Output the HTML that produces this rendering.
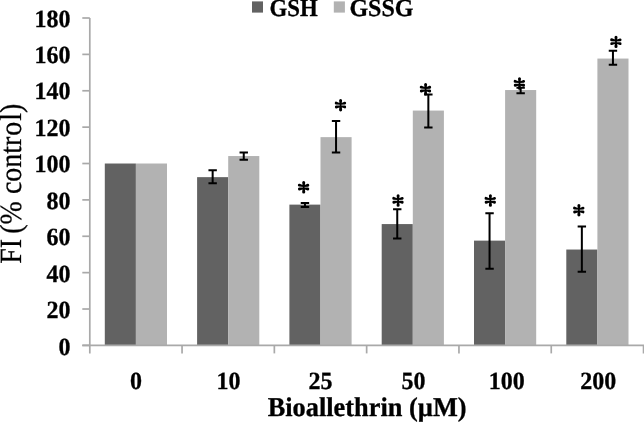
<!DOCTYPE html>
<html><head><meta charset="utf-8"><style>
html,body{margin:0;padding:0;background:#fff;width:644px;height:422px;overflow:hidden}
svg{display:block;text-rendering:geometricPrecision;will-change:transform}
</style></head><body>
<svg width="644" height="422" viewBox="0 0 644 422">
<rect x="104.80" y="163.51" width="31.10" height="181.89" fill="#626262"/>
<rect x="135.90" y="163.51" width="31.10" height="181.89" fill="#b2b2b2"/>
<rect x="197.10" y="177.15" width="31.10" height="168.25" fill="#626262"/>
<rect x="228.20" y="156.05" width="31.10" height="189.35" fill="#b2b2b2"/>
<rect x="289.40" y="204.62" width="31.10" height="140.78" fill="#626262"/>
<rect x="320.50" y="137.14" width="31.10" height="208.26" fill="#b2b2b2"/>
<rect x="381.70" y="224.08" width="31.10" height="121.32" fill="#626262"/>
<rect x="412.80" y="110.58" width="31.10" height="234.82" fill="#b2b2b2"/>
<rect x="474.00" y="240.63" width="31.10" height="104.77" fill="#626262"/>
<rect x="505.10" y="90.03" width="31.10" height="255.37" fill="#b2b2b2"/>
<rect x="566.30" y="249.54" width="31.10" height="95.86" fill="#626262"/>
<rect x="597.40" y="58.56" width="31.10" height="286.84" fill="#b2b2b2"/>
<g stroke="#a9a9a9" stroke-width="1.7" fill="none">
<path d="M89.8 18.0 V353.4"/>
<path d="M82.3 345.4 H644.0"/>
<path d="M82.3 345.40 H89.8"/>
<path d="M82.3 309.02 H89.8"/>
<path d="M82.3 272.64 H89.8"/>
<path d="M82.3 236.27 H89.8"/>
<path d="M82.3 199.89 H89.8"/>
<path d="M82.3 163.51 H89.8"/>
<path d="M82.3 127.13 H89.8"/>
<path d="M82.3 90.76 H89.8"/>
<path d="M82.3 54.38 H89.8"/>
<path d="M82.3 18.00 H89.8"/>
<path d="M182.05 345.4 V353.4"/>
<path d="M274.35 345.4 V353.4"/>
<path d="M366.65 345.4 V353.4"/>
<path d="M458.95 345.4 V353.4"/>
<path d="M551.25 345.4 V353.4"/>
<path d="M643.55 345.4 V353.4"/>
</g>
<g stroke="#000" stroke-width="2" fill="none">
<path d="M212.65 170.30 V183.30 M208.45 170.30 H216.85 M208.45 183.30 H216.85"/>
<path d="M243.75 152.40 V159.70 M239.55 152.40 H247.95 M239.55 159.70 H247.95"/>
<path d="M304.95 202.90 V207.10 M300.75 202.90 H309.15 M300.75 207.10 H309.15"/>
<path d="M336.05 121.10 V152.40 M331.85 121.10 H340.25 M331.85 152.40 H340.25"/>
<path d="M397.25 209.30 V238.60 M393.05 209.30 H401.45 M393.05 238.60 H401.45"/>
<path d="M428.35 94.60 V127.60 M424.15 94.60 H432.55 M424.15 127.60 H432.55"/>
<path d="M489.55 213.30 V268.70 M485.35 213.30 H493.75 M485.35 268.70 H493.75"/>
<path d="M520.65 87.80 V93.20 M516.45 87.80 H524.85 M516.45 93.20 H524.85"/>
<path d="M581.85 226.50 V271.70 M577.65 226.50 H586.05 M577.65 271.70 H586.05"/>
<path d="M612.95 50.70 V64.80 M608.75 50.70 H617.15 M608.75 64.80 H617.15"/>
</g>
<g font-family="Liberation Serif" font-weight="bold" font-size="24" text-anchor="end" fill="#000" stroke="#000" stroke-width="0.3">
<text transform="translate(70.4,354.95) scale(1,1.03)">0</text>
<text transform="translate(70.4,318.46) scale(1,1.03)">20</text>
<text transform="translate(70.4,281.96) scale(1,1.03)">40</text>
<text transform="translate(70.4,245.47) scale(1,1.03)">60</text>
<text transform="translate(70.4,208.97) scale(1,1.03)">80</text>
<text transform="translate(70.4,172.48) scale(1,1.03)">100</text>
<text transform="translate(70.4,135.98) scale(1,1.03)">120</text>
<text transform="translate(70.4,99.49) scale(1,1.03)">140</text>
<text transform="translate(70.4,62.99) scale(1,1.03)">160</text>
<text transform="translate(70.4,26.50) scale(1,1.03)">180</text>
</g>
<g font-family="Liberation Serif" font-weight="bold" font-size="24" text-anchor="middle" fill="#000" stroke="#000" stroke-width="0.3">
<text transform="translate(136.00,388.7) scale(1,1.03)">0</text>
<text transform="translate(228.50,388.7) scale(1,1.03)">10</text>
<text transform="translate(320.50,388.7) scale(1,1.03)">25</text>
<text transform="translate(413.60,388.7) scale(1,1.03)">50</text>
<text transform="translate(506.85,388.7) scale(1,1.03)">100</text>
<text transform="translate(598.15,388.7) scale(1,1.03)">200</text>
</g>
<text transform="translate(367.1,415.5) scale(1,1.03)" font-family="Liberation Serif" font-weight="bold" font-size="26.35" text-anchor="middle" stroke="#000" stroke-width="0.3">Bioallethrin (µM)</text>
<text transform="translate(20.9,183.75) rotate(-90) scale(1,1.1)" font-family="Liberation Serif" font-size="28" text-anchor="middle" stroke="#000" stroke-width="0.25">FI<tspan dx="-1.8"> (% contr</tspan><tspan dx="0.8">o</tspan><tspan dx="1">l)</tspan></text>
<rect x="252" y="1.4" width="11" height="11.2" fill="#626262"/>
<rect x="333.8" y="1.4" width="11.1" height="11.2" fill="#b2b2b2"/>
<g font-family="Liberation Serif" font-weight="bold" font-size="24" fill="#000" stroke="#000" stroke-width="0.3">
<text transform="translate(269.5,15.5) scale(0.95,1.03)">GSH</text>
<text transform="translate(349.4,15.5) scale(1,1.03)">GSSG</text>
</g>
<path transform="translate(297.70,181.10)" d="M6.85 6.20L7.50 1.50A1.50 1.50 0 0 0 4.50 1.50L5.15 6.20ZM5.15 6.20L4.45 10.85A1.55 1.55 0 0 0 7.55 10.85L6.85 6.20ZM6.16 4.42L1.95 2.63A1.45 1.45 0 0 0 1.27 5.45L5.84 5.78ZM6.16 5.78L10.52 5.54A1.45 1.45 0 0 0 9.86 2.72L5.84 4.42ZM5.88 6.51L1.48 6.52A1.45 1.45 0 0 0 1.98 9.38L6.12 7.89ZM5.88 7.89L9.92 9.37A1.45 1.45 0 0 0 10.43 6.52L6.12 6.51Z" fill="#000"/>
<path transform="translate(334.60,99.00)" d="M6.85 6.20L7.50 1.50A1.50 1.50 0 0 0 4.50 1.50L5.15 6.20ZM5.15 6.20L4.45 10.85A1.55 1.55 0 0 0 7.55 10.85L6.85 6.20ZM6.16 4.42L1.95 2.63A1.45 1.45 0 0 0 1.27 5.45L5.84 5.78ZM6.16 5.78L10.52 5.54A1.45 1.45 0 0 0 9.86 2.72L5.84 4.42ZM5.88 6.51L1.48 6.52A1.45 1.45 0 0 0 1.98 9.38L6.12 7.89ZM5.88 7.89L9.92 9.37A1.45 1.45 0 0 0 10.43 6.52L6.12 6.51Z" fill="#000"/>
<path transform="translate(392.10,194.30)" d="M6.85 6.20L7.50 1.50A1.50 1.50 0 0 0 4.50 1.50L5.15 6.20ZM5.15 6.20L4.45 10.85A1.55 1.55 0 0 0 7.55 10.85L6.85 6.20ZM6.16 4.42L1.95 2.63A1.45 1.45 0 0 0 1.27 5.45L5.84 5.78ZM6.16 5.78L10.52 5.54A1.45 1.45 0 0 0 9.86 2.72L5.84 4.42ZM5.88 6.51L1.48 6.52A1.45 1.45 0 0 0 1.98 9.38L6.12 7.89ZM5.88 7.89L9.92 9.37A1.45 1.45 0 0 0 10.43 6.52L6.12 6.51Z" fill="#000"/>
<path transform="translate(419.60,83.10)" d="M6.85 6.20L7.50 1.50A1.50 1.50 0 0 0 4.50 1.50L5.15 6.20ZM5.15 6.20L4.45 10.85A1.55 1.55 0 0 0 7.55 10.85L6.85 6.20ZM6.16 4.42L1.95 2.63A1.45 1.45 0 0 0 1.27 5.45L5.84 5.78ZM6.16 5.78L10.52 5.54A1.45 1.45 0 0 0 9.86 2.72L5.84 4.42ZM5.88 6.51L1.48 6.52A1.45 1.45 0 0 0 1.98 9.38L6.12 7.89ZM5.88 7.89L9.92 9.37A1.45 1.45 0 0 0 10.43 6.52L6.12 6.51Z" fill="#000"/>
<path transform="translate(484.40,194.30)" d="M6.85 6.20L7.50 1.50A1.50 1.50 0 0 0 4.50 1.50L5.15 6.20ZM5.15 6.20L4.45 10.85A1.55 1.55 0 0 0 7.55 10.85L6.85 6.20ZM6.16 4.42L1.95 2.63A1.45 1.45 0 0 0 1.27 5.45L5.84 5.78ZM6.16 5.78L10.52 5.54A1.45 1.45 0 0 0 9.86 2.72L5.84 4.42ZM5.88 6.51L1.48 6.52A1.45 1.45 0 0 0 1.98 9.38L6.12 7.89ZM5.88 7.89L9.92 9.37A1.45 1.45 0 0 0 10.43 6.52L6.12 6.51Z" fill="#000"/>
<path transform="translate(513.50,77.30)" d="M6.85 6.20L7.50 1.50A1.50 1.50 0 0 0 4.50 1.50L5.15 6.20ZM5.15 6.20L4.45 10.85A1.55 1.55 0 0 0 7.55 10.85L6.85 6.20ZM6.16 4.42L1.95 2.63A1.45 1.45 0 0 0 1.27 5.45L5.84 5.78ZM6.16 5.78L10.52 5.54A1.45 1.45 0 0 0 9.86 2.72L5.84 4.42ZM5.88 6.51L1.48 6.52A1.45 1.45 0 0 0 1.98 9.38L6.12 7.89ZM5.88 7.89L9.92 9.37A1.45 1.45 0 0 0 10.43 6.52L6.12 6.51Z" fill="#000"/>
<path transform="translate(572.90,204.00)" d="M6.85 6.20L7.50 1.50A1.50 1.50 0 0 0 4.50 1.50L5.15 6.20ZM5.15 6.20L4.45 10.85A1.55 1.55 0 0 0 7.55 10.85L6.85 6.20ZM6.16 4.42L1.95 2.63A1.45 1.45 0 0 0 1.27 5.45L5.84 5.78ZM6.16 5.78L10.52 5.54A1.45 1.45 0 0 0 9.86 2.72L5.84 4.42ZM5.88 6.51L1.48 6.52A1.45 1.45 0 0 0 1.98 9.38L6.12 7.89ZM5.88 7.89L9.92 9.37A1.45 1.45 0 0 0 10.43 6.52L6.12 6.51Z" fill="#000"/>
<path transform="translate(610.00,35.70)" d="M6.85 6.20L7.50 1.50A1.50 1.50 0 0 0 4.50 1.50L5.15 6.20ZM5.15 6.20L4.45 10.85A1.55 1.55 0 0 0 7.55 10.85L6.85 6.20ZM6.16 4.42L1.95 2.63A1.45 1.45 0 0 0 1.27 5.45L5.84 5.78ZM6.16 5.78L10.52 5.54A1.45 1.45 0 0 0 9.86 2.72L5.84 4.42ZM5.88 6.51L1.48 6.52A1.45 1.45 0 0 0 1.98 9.38L6.12 7.89ZM5.88 7.89L9.92 9.37A1.45 1.45 0 0 0 10.43 6.52L6.12 6.51Z" fill="#000"/>
</svg>
</body></html>
